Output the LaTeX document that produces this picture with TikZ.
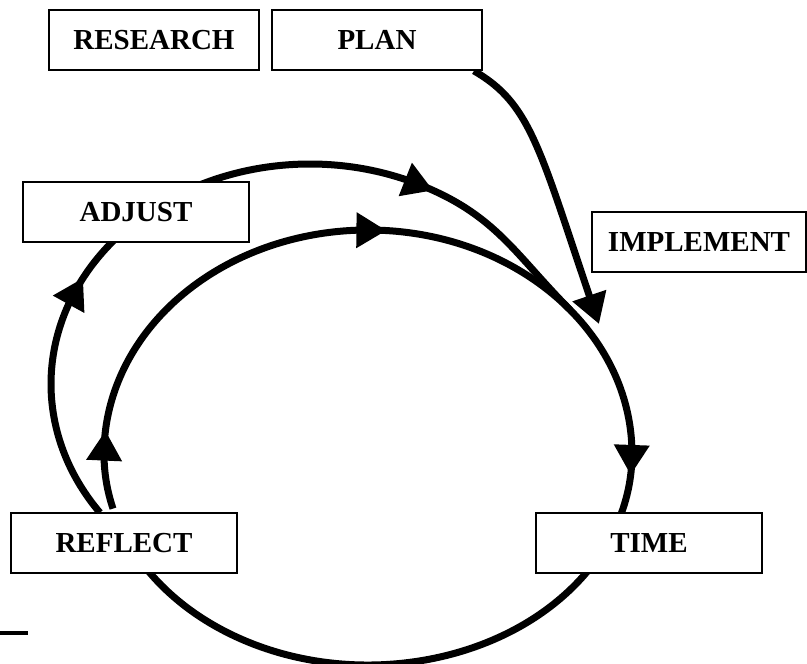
\documentclass[tikz,border=0pt]{standalone}
\usepackage{fontspec}
\setmainfont{Liberation Serif}
\usetikzlibrary{arrows.meta,bending,calc}
\pgfdeclarelayer{background}
\pgfsetlayers{background,main}
\begin{document}
\begin{tikzpicture}[x=1pt,y=1pt,
  box/.style={draw, line width=1.8pt, fill=white, minimum height=60pt, inner sep=0pt,
              font=\fontsize{29}{34}\selectfont\bfseries},
  flow/.style={line width=7pt},
  arr/.style={-{Triangle[length=30pt,width=34pt]}}]
\useasboundingbox (0,0) rectangle (807,664);
% boxes
\node[box, minimum width=210pt] (research)  at (154,624) {RESEARCH};
\node[box, minimum width=210pt] (plan)      at (377,624) {PLAN};
\node[box, minimum width=226pt] (adjust)    at (136,452) {ADJUST};
\node[box, minimum width=214pt] (implement) at (699,422) {IMPLEMENT};
\node[box, minimum width=226pt] (reflect)   at (124,121) {REFLECT};
\node[box, minimum width=226pt] (time)      at (649,121) {TIME};
% loop centres
\coordinate (ci) at (368,210);
\coordinate (co) at (310,280);
\coordinate (merge) at ($(ci)+(40:264pt and 224pt)$);
\begin{pgfonlayer}{background}
% inner loop
\draw[flow, arr] ($(ci)+(195:264pt and 211pt)$)
   arc[start angle=195, end angle=180, x radius=264pt, y radius=211pt]
   arc[start angle=180, end angle=174, x radius=264pt, y radius=224pt];
\draw[flow, arr] ($(ci)+(176.5:264pt and 224pt)$)
   arc[start angle=176.5, end angle=86, x radius=264pt, y radius=224pt];
\draw[flow, arr] ($(ci)+(88.2:264pt and 224pt)$)
   arc[start angle=88.2, end angle=0, x radius=264pt, y radius=224pt]
   arc[start angle=0, end angle=-5.7, x radius=264pt, y radius=211pt];
\draw[flow] ($(ci)+(-3:264pt and 211pt)$)
   arc[start angle=-3, end angle=-20, x radius=264pt, y radius=211pt];
\draw[flow] ($(ci)+(-32:264pt and 211pt)$)
   arc[start angle=-32, end angle=-148, x radius=264pt, y radius=211pt];
% outer loop
\draw[flow, arr] ($(co)+(215.8:259pt and 220pt)$)
   arc[start angle=215.8, end angle=151.2, x radius=259pt, y radius=220pt];
\draw[flow, arr] ($(co)+(153.7:259pt and 220pt)$)
   arc[start angle=153.7, end angle=61.6, x radius=259pt, y radius=220pt];
\draw[flow] ($(co)+(63.9:259pt and 220pt)$)
   to[out=-22.5, in=134.7, looseness=1.05] (merge);
% plan arrow
\draw[flow, arr] ([xshift=-9pt]plan.south east) .. controls (533.6,559) and (540.4,510) .. (599,340);
\end{pgfonlayer}
% stray rule
\draw[line width=4pt] (0,31) -- (28,31);
\end{tikzpicture}
\end{document}
